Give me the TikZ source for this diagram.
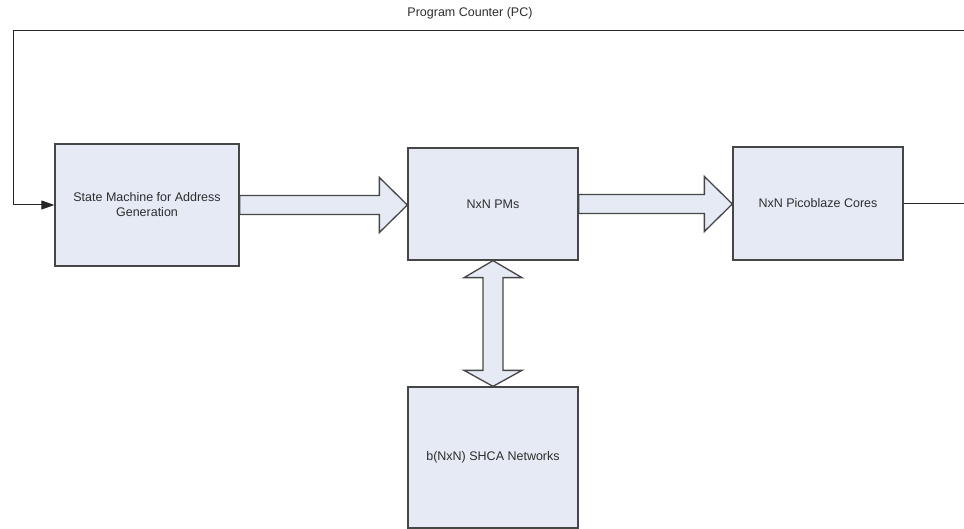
\documentclass[tikz,border=0pt]{standalone}
\usepackage{color}
\usepackage{fontspec}
\setmainfont{Liberation Sans}
\usepackage{tikz}
\usetikzlibrary{arrows.meta,calc}

\definecolor{boxfill}{RGB}{229,234,245}
\definecolor{boxline}{RGB}{70,70,70}
\definecolor{textgray}{RGB}{45,45,45}

% fat arrow between two boxes, left to right
\newcommand{\fatarrow}[2]{%
	\draw[fatline] let \p1=(#1.east), \p2=(#2.west) in
		(\x1,\y1+9.5pt) -- (\x2-28pt,\y1+9.5pt) -- (\x2-28pt,\y1+27.5pt) -- (\x2,\y1)
		-- (\x2-28pt,\y1-27.5pt) -- (\x2-28pt,\y1-9.5pt) -- (\x1,\y1-9.5pt) -- cycle;}

\begin{document}
\begin{tikzpicture}[x=1pt,y=-1pt,
	box/.style={draw=boxline,line width=1.3pt,fill=boxfill,inner sep=0pt,
		text=textgray,font=\fontsize{12.5}{15}\selectfont,align=center},
	fatline/.style={draw=boxline,line width=1.3pt,fill=boxfill},
	pcline/.style={draw=black!85,line width=1pt}]
	\useasboundingbox (0,0) rectangle (964,529);

	% Boxes
	\node[box,minimum width=184pt,minimum height=122pt] (sm) at (147,205) {State Machine for Address\\Generation};
	\node[box,minimum width=170pt,minimum height=112pt] (pm) at (493,204) {NxN PMs};
	\node[box,minimum width=170pt,minimum height=113pt] (pb) at (818,203.5) {NxN Picoblaze Cores};
	\node[box,minimum width=170pt,minimum height=141pt] (shca) at (493,457.5) {b(NxN) SHCA Networks};

	% fat arrows
	\fatarrow{sm}{pm}
	\fatarrow{pm}{pb}
	\draw[fatline] let \p1=(pm.south), \p2=(shca.north) in
		(\x1,\y1) -- (\x1+29pt,\y1-17pt) -- (\x1+10pt,\y1-17pt) -- (\x1+10pt,\y2+16pt)
		-- (\x1+29pt,\y2+16pt) -- (\x1,\y2) -- (\x1-29pt,\y2+16pt) -- (\x1-10pt,\y2+16pt)
		-- (\x1-10pt,\y1-17pt) -- (\x1-29pt,\y1-17pt) -- cycle;

	% program counter loop
	\coordinate (pcr) at (966,31);
	\coordinate (pcl) at (13,31);
	\node[text=textgray,font=\fontsize{12.5}{15}\selectfont] (pc) at (470,13) {Program Counter (PC)};
	\draw[pcline,-{Triangle[length=13pt,width=9pt]}] (pb.east) -- (pb.east -| pcr) -- (pcr) -- (pcl) -- (pcl |- sm.west) -- (sm.west);
\end{tikzpicture}
\end{document}
